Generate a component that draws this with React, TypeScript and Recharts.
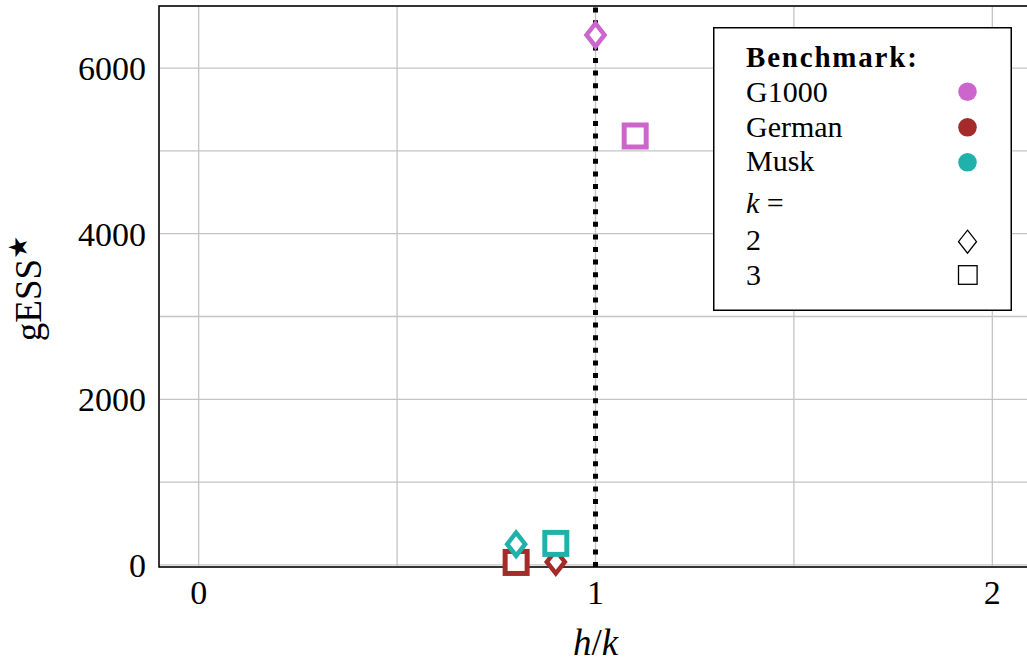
import React from 'react';
import { ScatterChart, Scatter, XAxis, YAxis, CartesianGrid, ReferenceLine, ReferenceArea } from 'recharts';

// ---- data ----
const benchmarks = ['G1000', 'German', 'Musk'];
const benchmarkColors = ['#CC66CC', '#A52A2A', '#20B2AA'];
const kValues = [2, 3];

// h/k and gESS* per benchmark, ordered by k = [2, 3]
const g1000HK = [1.0, 1.1];
const g1000Gess = [6400, 5180];
const germanHK = [0.9, 0.8];
const germanGess = [36, 30];
const muskHK = [0.8, 0.9];
const muskGess = [250, 260];

const xTicks = [0, 0.5, 1, 1.5, 2];
const yTicks = [0, 1000, 2000, 3000, 4000, 5000, 6000];
const xLabelTicks = [0, 1, 2];
const yLabelTicks = [0, 2000, 4000, 6000];
const xDomain = [-0.1, 2.1];
const yDomain = [-25, 6750];
const referenceHK = 1;

const seriesHK = [g1000HK, germanHK, muskHK];
const seriesGess = [g1000Gess, germanGess, muskGess];

const FONT = '"Liberation Serif", "DejaVu Serif", serif';

const Diamond = (props: any) => {
  const { cx, cy, fill } = props;
  if (cx == null || cy == null) return null;
  const w = 9, h = 11.5;
  return (
    <path
      d={`M${cx},${cy - h} L${cx + w},${cy} L${cx},${cy + h} L${cx - w},${cy} Z`}
      fill="#fff"
      stroke={fill}
      strokeWidth={4.5}
      strokeLinejoin="miter"
    />
  );
};

const Square = (props: any) => {
  const { cx, cy, fill } = props;
  if (cx == null || cy == null) return null;
  const s = 11;
  return (
    <rect x={cx - s} y={cy - s} width={2 * s} height={2 * s} fill="#fff" stroke={fill} strokeWidth={5} />
  );
};

const shapes = [Diamond, Square];

const YLabel = (props: any) => {
  const vb = props.viewBox || {};
  const x = (vb.x ?? 59) - 18;
  const y = (vb.y ?? 6) + (vb.height ?? 561) / 2 + 2;
  return (
    <text x={x} y={y} transform={`rotate(-90 ${x} ${y})`} textAnchor="middle" fontFamily={FONT} fontSize={37} fill="#000">
      gESS<tspan dy="-14" fontSize={26}>★</tspan>
    </text>
  );
};

const XLabel = (props: any) => {
  const vb = props.viewBox || {};
  const x = (vb.x ?? 159) + (vb.width ?? 873) / 2;
  const y = (vb.y ?? 567) + 88;
  return (
    <text x={x} y={y} textAnchor="middle" fontFamily={FONT} fontSize={37} fill="#000">
      <tspan fontStyle="italic">h</tspan>/<tspan fontStyle="italic">k</tspan>
    </text>
  );
};

const Legend = () => {
  const rowBase = [74.7, 109.7, 144];
  const circleY = [64.7, 100.3, 135.3];
  const kBase = [223, 258];
  const kMarkY = [214.7, 248];
  return (
    <svg width={299} height={284} style={{ position: 'absolute', left: 712.5, top: 26.5 }}>
      <rect x={0.75} y={0.75} width={297.5} height={282.5} fill="#fff" stroke="#000" strokeWidth={1.5} />
      <text x={33} y={39.7} fontFamily={FONT} fontSize={29} fontWeight="bold" letterSpacing={1.8} fill="#000">Benchmark:</text>
      {benchmarks.map((b, i) => (
        <g key={b}>
          <text x={33} y={rowBase[i]} fontFamily={FONT} fontSize={30} fill="#000">{b}</text>
          <circle cx={254.5} cy={circleY[i]} r={9.3} fill={benchmarkColors[i]} />
        </g>
      ))}
      <text x={33} y={185.7} fontFamily={FONT} fontSize={30} fill="#000">
        <tspan fontStyle="italic">k</tspan> =
      </text>
      {kValues.map((k, i) => (
        <g key={k}>
          <text x={33} y={kBase[i]} fontFamily={FONT} fontSize={30} fill="#000">{k}</text>
          {i === 0 ? (
            <path
              d={`M254.5,${kMarkY[i] - 11.5} L263.5,${kMarkY[i]} L254.5,${kMarkY[i] + 11.5} L245.5,${kMarkY[i]} Z`}
              fill="#fff" stroke="#000" strokeWidth={1.3}
            />
          ) : (
            <rect x={245.5} y={kMarkY[i] - 9.3} width={18.6} height={18.6} fill="#fff" stroke="#000" strokeWidth={1.3} />
          )}
        </g>
      ))}
    </svg>
  );
};

export default function App() {
  const tickStyle = { fontFamily: FONT, fontSize: 34, fill: '#000' };
  return (
    <div style={{ position: 'absolute', left: 0, top: 0, width: 1027, height: 667, overflow: 'hidden', background: '#fff' }}>
      <ScatterChart width={1040} height={667} margin={{ top: 6, right: 8, bottom: 40, left: 59 }}>
        <CartesianGrid stroke="#c4c4c4" strokeWidth={1.3} />
        <XAxis
          type="number"
          dataKey="x"
          domain={xDomain}
          ticks={xTicks}
          interval={0}
          axisLine={false}
          tickLine={false}
          tickSize={0}
          tickMargin={13}
          height={60}
          tick={tickStyle}
          tickFormatter={(v: number) => (xLabelTicks.includes(v) ? String(v) : '')}
          label={{ content: XLabel }}
        />
        <YAxis
          type="number"
          dataKey="y"
          domain={yDomain}
          ticks={yTicks}
          interval={0}
          axisLine={false}
          tickLine={false}
          tickSize={0}
          tickMargin={13}
          width={100}
          tick={tickStyle}
          tickFormatter={(v: number) => (yLabelTicks.includes(v) ? String(v) : '')}
          label={{ content: YLabel }}
        />
        <ReferenceArea
          x1={xDomain[0]}
          x2={xDomain[1]}
          y1={yDomain[0]}
          y2={yDomain[1]}
          fill="#fff"
          fillOpacity={0}
          stroke="#000"
          strokeWidth={1.5}
          ifOverflow="visible"
        />
        <ReferenceLine x={referenceHK} stroke="#000" strokeWidth={5} strokeDasharray="5 7.6" ifOverflow="visible" />
        {benchmarks.map((b, bi) =>
          kValues.map((k, ki) => (
            <Scatter
              key={`${b}-${k}`}
              name={`${b} k=${k}`}
              data={[{ x: seriesHK[bi][ki], y: seriesGess[bi][ki] }]}
              fill={benchmarkColors[bi]}
              shape={shapes[ki]}
              isAnimationActive={false}
              legendType="none"
            />
          ))
        )}
      </ScatterChart>
      <Legend />
    </div>
  );
}
